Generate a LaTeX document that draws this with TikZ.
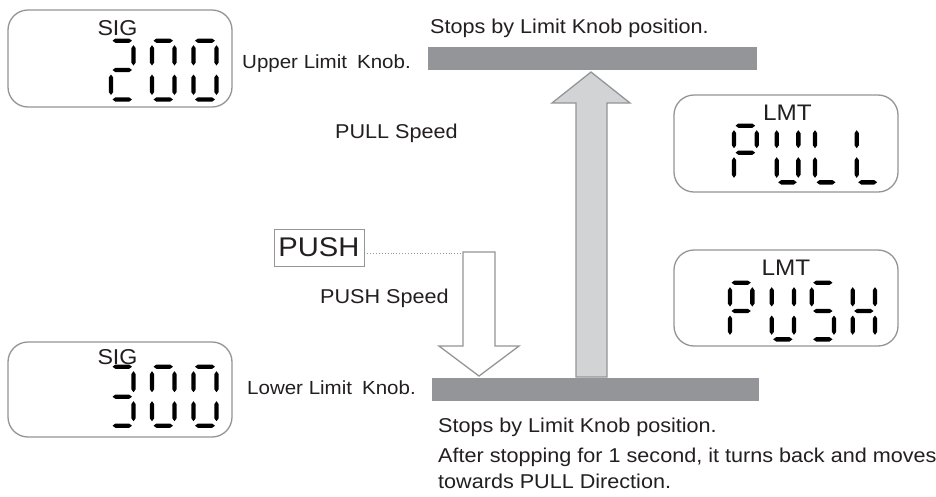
\documentclass[tikz,border=0pt]{standalone}
\usepackage{fontspec}
\setmainfont[FakeStretch=1.08]{Liberation Sans}
\definecolor{txt}{HTML}{231F20}
\definecolor{bargray}{HTML}{939598}
\definecolor{arrowfill}{HTML}{D1D3D4}
\definecolor{boxline}{HTML}{939598}
\newcommand\hseg[3]{\fill[segfill] ({#1-#3},{#2}) -- ({#1-#3+3},{#2-2.2}) -- ({#1+#3-3},{#2-2.2}) -- ({#1+#3},{#2}) -- ({#1+#3-3},{#2+2.2}) -- ({#1-#3+3},{#2+2.2}) -- cycle;}
\newcommand\vseg[3]{\fill[segfill] ({#1},{#2-#3}) -- ({#1+2.2},{#2-#3+3}) -- ({#1+2.2},{#2+#3-3}) -- ({#1},{#2+#3}) -- ({#1-2.2},{#2+#3-3}) -- ({#1-2.2},{#2-#3+3}) -- cycle;}
\newcommand\digit[6]{%
 \pgfmathsetmacro\dxc{(#1+#2)/2}\pgfmathsetmacro\dhw{(#2-#1)/2-1.5}%
 \pgfmathsetmacro\dyu{(#3+#4)/2}\pgfmathsetmacro\dhu{(#4-#3)/2-4.5}%
 \pgfmathsetmacro\dyl{(#4+#5)/2}\pgfmathsetmacro\dhl{(#5-#4)/2-4.5}%
 \def\dxl{#1}\def\dxr{#2}\def\dyt{#3}\def\dym{#4}\def\dyb{#5}%
 \foreach \s in {#6}{\csname dseg\s\endcsname}}
\newcommand\dsega{\hseg{\dxc}{\dyt}{\dhw}}
\newcommand\dsegg{\hseg{\dxc}{\dym}{\dhw}}
\newcommand\dsegd{\hseg{\dxc}{\dyb}{\dhw}}
\newcommand\dsegf{\vseg{\dxl}{\dyu}{\dhu}}
\newcommand\dsegb{\vseg{\dxr}{\dyu}{\dhu}}
\newcommand\dsege{\vseg{\dxl}{\dyl}{\dhl}}
\newcommand\dsegc{\vseg{\dxr}{\dyl}{\dhl}}
\tikzset{
  segfill/.style={fill=black},
  dispbox/.style={draw=boxline, line width=1.3pt, rounded corners=20pt, fill=white, inner sep=0pt},
  bar/.style={fill=bargray, inner sep=0pt},
  lbl/.style={text=txt, inner sep=0pt, anchor=base west, font=\fontsize{20}{23}\selectfont},
  knoblbl/.style={lbl, font=\fontsize{19}{22}\selectfont},
  disptxt/.style={text=txt, inner sep=0pt, font=\fontsize{21.5}{24}\selectfont},
  uparrowst/.style={draw=bargray, line width=1.3pt, fill=arrowfill, line join=miter},
  downarrowst/.style={draw=bargray, line width=1.3pt, fill=white, line join=miter},
}
\begin{document}
\begin{tikzpicture}[x=1pt,y=-1pt]
\useasboundingbox[fill=white] (0,0) rectangle (936,496);
% display boxes
\node[dispbox, minimum width=224pt, minimum height=97pt] (sigup) at (120,58.5) {};
\node[dispbox, minimum width=224pt, minimum height=95pt] (siglow) at (120,389.5) {};
\node[dispbox, minimum width=224pt, minimum height=97pt] (lmtpull) at (786,143.5) {};
\node[dispbox, minimum width=224pt, minimum height=96pt] (lmtpush) at (786,298) {};
\node[disptxt] (sigtxt1) at (117.5,28.5) {SIG};
\node[disptxt] (sigtxt2) at (117.5,357.5) {SIG};
\node[disptxt, font=\fontsize{22.5}{25}\selectfont] (lmttxt1) at (787.5,113) {LMT};
\node[disptxt, font=\fontsize{22.5}{25}\selectfont] (lmttxt2) at (786,268) {LMT};
% digits 200
\digit{111}{133.5}{40.7}{70}{99.5}{a,b,g,e,d}
\digit{152}{174.5}{40.7}{70}{99.5}{a,b,c,d,e,f}
\digit{193.5}{216.5}{40.7}{70}{99.5}{a,b,c,d,e,f}
% digits 300
\digit{111}{133.5}{366.7}{396.7}{425.7}{a,b,g,c,d}
\digit{152}{174.5}{366.7}{396.7}{425.7}{a,b,c,d,e,f}
\digit{193.5}{216.5}{366.7}{396.7}{425.7}{a,b,c,d,e,f}
% PULL
\digit{734}{756.7}{125.7}{152.7}{182.3}{a,b,f,g,e}
\digit{776.7}{798.3}{125.7}{152.7}{182.3}{f,b,e,c,d}
\digit{815}{837}{125.7}{152.7}{182.3}{f,e,d}
\digit{856.7}{878.7}{125.7}{152.7}{182.3}{f,e,d}
% PUSH
\digit{730}{752.3}{282.7}{311}{339.3}{a,b,f,g,e}
\digit{771.7}{794}{282.7}{311}{339.3}{f,b,e,c,d}
\digit{811.7}{834}{282.7}{311}{339.3}{a,f,g,c,d}
\digit{852.7}{875}{282.7}{311}{339.3}{f,b,g,e,c}
% bars
\node[bar, minimum width=329pt, minimum height=23pt] (upbar) at (592.5,58.5) {};
\node[bar, minimum width=327pt, minimum height=23pt] (lowbar) at (595.5,389.5) {};
% arrows
\draw[uparrowst] (576,377) -- (576,103) -- (552,103) -- (591,72) -- (630,103) -- (607,103) -- (607,377) -- cycle;
\draw[downarrowst] (463,252) -- (495,252) -- (495,346) -- (519,346) -- (479,376) -- (439,346) -- (463,346) -- cycle;
\coordinate (dshaft) at (463,253);
% PUSH button
\node[draw=boxline, line width=0.9pt, minimum width=90pt, minimum height=37pt, inner sep=0pt, text=txt, font=\fontsize{27}{30}\selectfont] (push) at (319,247.5) {PUSH};
\draw[boxline, line width=0.9pt, dotted] (push.east |- dshaft) -- (dshaft);
% labels
\node[lbl] (stopup) at (430,33) {Stops by Limit Knob position.};
\node[knoblbl] (upknob) at (242,68) {Upper Limit\hspace{10pt}Knob.};
\node[lbl] (pullsp) at (335,138) {PULL Speed};
\node[lbl] (pushsp) at (320,303) {PUSH Speed};
\node[knoblbl] (lowknob) at (247,394) {Lower Limit\hspace{10pt}Knob.};
\node[lbl] (stoplow) at (438,432) {Stops by Limit Knob position.};
\node[lbl] (after) at (438,462) {After stopping for 1 second, it turns back and moves};
\node[lbl] (towards) at (438,488) {towards PULL Direction.};
\end{tikzpicture}
\end{document}
